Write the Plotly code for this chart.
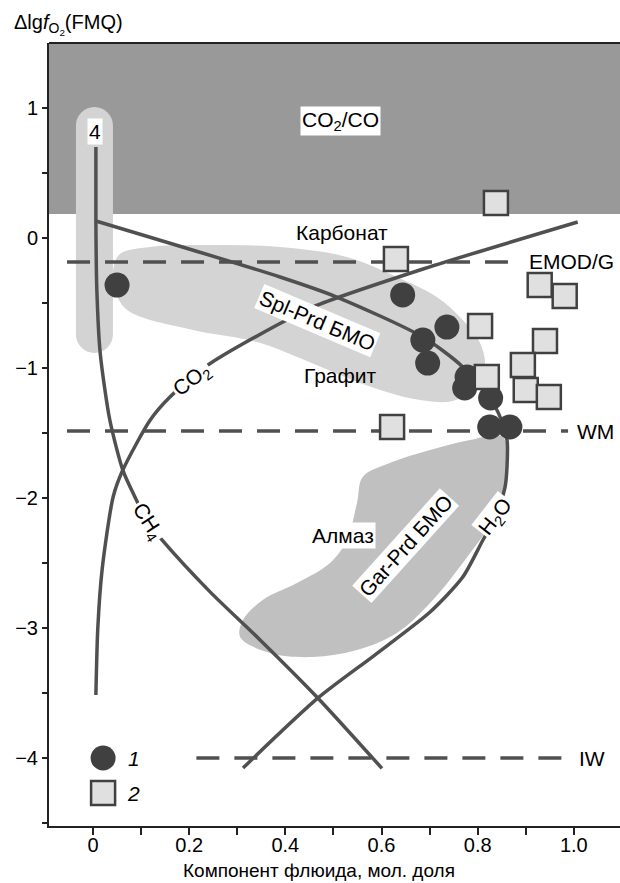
import plotly.graph_objects as go

# ---- point data: series 1 (circles) and series 2 (squares) ----
circ_x = [0.050, 0.644, 0.736, 0.686, 0.696, 0.778, 0.773, 0.827, 0.825, 0.867]
circ_y = [-0.362, -0.438, -0.685, -0.785, -0.962, -1.069, -1.154, -1.231, -1.454, -1.454]
sq_x = [0.838, 0.630, 0.929, 0.981, 0.805, 0.940, 0.894, 0.819, 0.900, 0.948, 0.622]
sq_y = [0.269, -0.162, -0.362, -0.446, -0.677, -0.792, -0.977, -1.069, -1.169, -1.223, -1.454]

# ---- fluid component curves ----
h2o_x = [0.006, 0.389, 0.507, 0.686, 0.769, 0.840, 0.861, 0.861, 0.857, 0.838, 0.811,
         0.769, 0.701, 0.586, 0.468, 0.312]
h2o_y = [0.131, -0.300, -0.454, -0.762, -0.992, -1.323, -1.554, -1.760, -1.915, -2.146, -2.323,
         -2.608, -2.877, -3.208, -3.538, -4.077]
ch4_x = [0.006, 0.006, 0.008, 0.015, 0.035, 0.062, 0.087, 0.114, 0.143, 0.243, 0.347, 0.468, 0.601]
ch4_y = [0.700, 0.130, -0.400, -0.885, -1.400, -1.785, -1.990, -2.185, -2.320, -2.720, -3.090,
         -3.540, -4.080]
co2_x = [0.006, 0.010, 0.019, 0.042, 0.062, 0.119, 0.160, 0.239, 0.383, 0.457, 0.680, 1.008]
co2_y = [-3.515, -3.000, -2.550, -1.990, -1.785, -1.400, -1.223, -0.977, -0.669, -0.531, -0.246, 0.123]

# ---- buffer levels ----
emod_y, emod_x = -0.185, [-0.054, 0.863]
wm_y, wm_x = -1.485, [-0.054, 0.988]
iw_y, iw_x = -4.0, [0.215, 1.0]
co2co_level = 0.185  # lower limit of the CO2/CO field

# ---- fields ----
spl_x = [0.042, 0.056, 0.119, 0.222, 0.389, 0.528, 0.632, 0.715, 0.769, 0.805, 0.815, 0.794,
         0.748, 0.680, 0.597, 0.514, 0.430, 0.341, 0.208, 0.071, 0.046, 0.042]
spl_y = [-0.246, -0.123, -0.069, -0.054, -0.069, -0.146, -0.300, -0.454, -0.631, -0.808, -0.992,
         -1.154, -1.254, -1.246, -1.169, -1.054, -0.923, -0.800, -0.708, -0.554, -0.400, -0.246]
gar_x = [0.852, 0.861, 0.840, 0.769, 0.701, 0.632, 0.549, 0.457, 0.368, 0.306, 0.312, 0.353,
         0.424, 0.493, 0.528, 0.549, 0.561, 0.617, 0.701, 0.784, 0.852]
gar_y = [-1.531, -1.862, -2.115, -2.500, -2.808, -3.038, -3.169, -3.223, -3.192, -3.069, -2.938,
         -2.785, -2.654, -2.500, -2.323, -2.038, -1.838, -1.731, -1.631, -1.554, -1.531]
col4_x, col4_top, col4_bot, col4_rx, col4_ry = 0.003, 1.008, -0.885, 0.0385, 0.142

FONT = "Liberation Sans, Arial, sans-serif"
LINE = "#505050"
DARK = "#404040"

fig = go.Figure()

# fields
fig.add_trace(go.Scatter(x=spl_x, y=spl_y, mode="lines", fill="toself", fillcolor="#d4d4d4",
                         line=dict(color="#d4d4d4", width=0, shape="spline", smoothing=1.0),
                         hoverinfo="skip", showlegend=False))
fig.add_trace(go.Scatter(x=gar_x, y=gar_y, mode="lines", fill="toself", fillcolor="#c0c0c0",
                         line=dict(color="#c0c0c0", width=0, shape="spline", smoothing=1.0),
                         hoverinfo="skip", showlegend=False))

# curves
for cx, cy in [(h2o_x, h2o_y), (ch4_x, ch4_y), (co2_x, co2_y)]:
    fig.add_trace(go.Scatter(x=cx, y=cy, mode="lines",
                             line=dict(color=LINE, width=3.5, shape="spline", smoothing=0.7),
                             hoverinfo="skip", showlegend=False))

# buffers
for bx, by in [(emod_x, emod_y), (wm_x, wm_y), (iw_x, iw_y)]:
    fig.add_trace(go.Scatter(x=bx, y=[by, by], mode="lines",
                             line=dict(color=LINE, width=3.5, dash="23px,15px"),
                             hoverinfo="skip", showlegend=False))

# points
fig.add_trace(go.Scatter(x=circ_x, y=circ_y, mode="markers",
                         marker=dict(symbol="circle", size=25, color=DARK, line=dict(width=0)),
                         showlegend=False))
fig.add_trace(go.Scatter(x=sq_x, y=sq_y, mode="markers",
                         marker=dict(symbol="square", size=24, color="#e0e0e0",
                                     line=dict(width=2.5, color=DARK)),
                         showlegend=False))

# key
fig.add_trace(go.Scatter(x=[0.021], y=[-4.0], mode="markers",
                         marker=dict(symbol="circle", size=25, color=DARK), showlegend=False))
fig.add_trace(go.Scatter(x=[0.021], y=[-4.27], mode="markers",
                         marker=dict(symbol="square", size=24, color="#e0e0e0",
                                     line=dict(width=2.5, color=DARK)), showlegend=False))

# capsule-shaped field "4" (cubic arcs map to circular caps under the axis scaling)
k = 0.5523
xl, xr = col4_x - col4_rx, col4_x + col4_rx
yt, yb = col4_top - col4_ry, col4_bot + col4_ry
cap_path = (
    f"M {xl},{yb} L {xl},{yt} "
    f"C {xl},{yt + k*col4_ry} {col4_x - k*col4_rx},{col4_top} {col4_x},{col4_top} "
    f"C {col4_x + k*col4_rx},{col4_top} {xr},{yt + k*col4_ry} {xr},{yt} "
    f"L {xr},{yb} "
    f"C {xr},{yb - k*col4_ry} {col4_x + k*col4_rx},{col4_bot} {col4_x},{col4_bot} "
    f"C {col4_x - k*col4_rx},{col4_bot} {xl},{yb - k*col4_ry} {xl},{yb} Z"
)

shapes = [
    dict(type="rect", xref="paper", yref="y", x0=0, x1=1, y0=co2co_level, y1=1.5,
         fillcolor="#999999", line=dict(width=0), layer="below"),
    dict(type="path", xref="x", yref="y", path=cap_path, fillcolor="#d3d3d3",
         line=dict(width=0), layer="below"),
    dict(type="line", xref="paper", yref="paper", x0=0, x1=1, y0=1, y1=1,
         line=dict(color="#222222", width=2)),
]

def label(text, x, y, angle=0, bg=None, size=21, xanchor="center"):
    d = dict(text=text, x=x, y=y, xref="x", yref="y", showarrow=False, textangle=angle,
             font=dict(family=FONT, size=size, color="black"), xanchor=xanchor, yanchor="middle")
    if bg:
        d.update(bgcolor=bg, borderpad=1)
    return d

annotations = [
    label("CO<sub>2</sub>/CO", 0.514, 0.90, bg="white"),
    label("Карбонат", 0.518, 0.046),
    label("EMOD/G", 0.996, -0.177),
    label("Spl-Prd БМО", 0.466, -0.631, angle=23, bg="white"),
    label("Графит", 0.514, -1.054),
    label("CO<sub>2</sub>", 0.206, -1.092, angle=-38, bg="white"),
    label("CH<sub>4</sub>", 0.114, -2.185, angle=57, bg="white"),
    label("Алмаз", 0.520, -2.292, bg="white"),
    label("Gar-Prd БМО", 0.651, -2.369, angle=-48, bg="white"),
    label("H<sub>2</sub>O", 0.838, -2.146, angle=-52, bg="white"),
    label("WM", 1.044, -1.490),
    label("IW", 1.037, -4.0),
    label("4", 0.004, 0.823, bg="white"),
    label("<i>1</i>", 0.085, -4.0),
    label("<i>2</i>", 0.085, -4.27),
    dict(text="Δlg<i>f</i><sub>O<sub>2</sub></sub>(FMQ)", xref="paper", yref="paper",
         x=-0.065, y=1.023, xanchor="left", yanchor="middle", showarrow=False,
         font=dict(family=FONT, size=20, color="black")),
    dict(text="Компонент флюида, мол. доля", xref="paper", yref="paper",
         x=0.473, y=-0.057, xanchor="center", yanchor="middle", showarrow=False,
         font=dict(family=FONT, size=19, color="black")),
]

x_ticks = [0, 0.2, 0.4, 0.6, 0.8, 1.0]
x_ticktext = ["0", "0.2", "0.4", "0.6", "0.8", "1.0"]
y_ticks = [-4, -3, -2, -1, 0, 1]
y_ticktext = ["−4", "−3", "−2", "−1", "0", "1"]

fig.update_layout(
    width=620, height=883, autosize=False,
    margin=dict(l=49, r=0, t=43, b=57),
    plot_bgcolor="white", paper_bgcolor="white",
    shapes=shapes, annotations=annotations,
    font=dict(family=FONT, size=20, color="black"),
    xaxis=dict(range=[-0.0915, 1.096], tickvals=x_ticks, ticktext=x_ticktext,
               ticks="outside", ticklen=7, tickwidth=1.5, tickcolor="#222222",
               ticklabelstandoff=-7,
               minor=dict(tickvals=[0.1, 0.3, 0.5, 0.7, 0.9], ticks="outside", ticklen=7,
                          tickwidth=1.5, tickcolor="#222222"),
               showline=True, linewidth=2, linecolor="#222222", showgrid=False, zeroline=False,
               tickfont=dict(family=FONT, size=20)),
    yaxis=dict(range=[-4.523, 1.5], tickvals=y_ticks, ticktext=y_ticktext,
               ticks="outside", ticklen=5, tickwidth=1.5, tickcolor="#222222",
               minor=dict(tickvals=[-4.5, -3.5, -2.5, -1.5, -0.5, 0.5], ticks="outside",
                          ticklen=5, tickwidth=1.5, tickcolor="#222222"),
               showline=True, linewidth=2, linecolor="#222222", showgrid=False, zeroline=False,
               tickfont=dict(family=FONT, size=20)),
)

fig.write_html("out.html")
